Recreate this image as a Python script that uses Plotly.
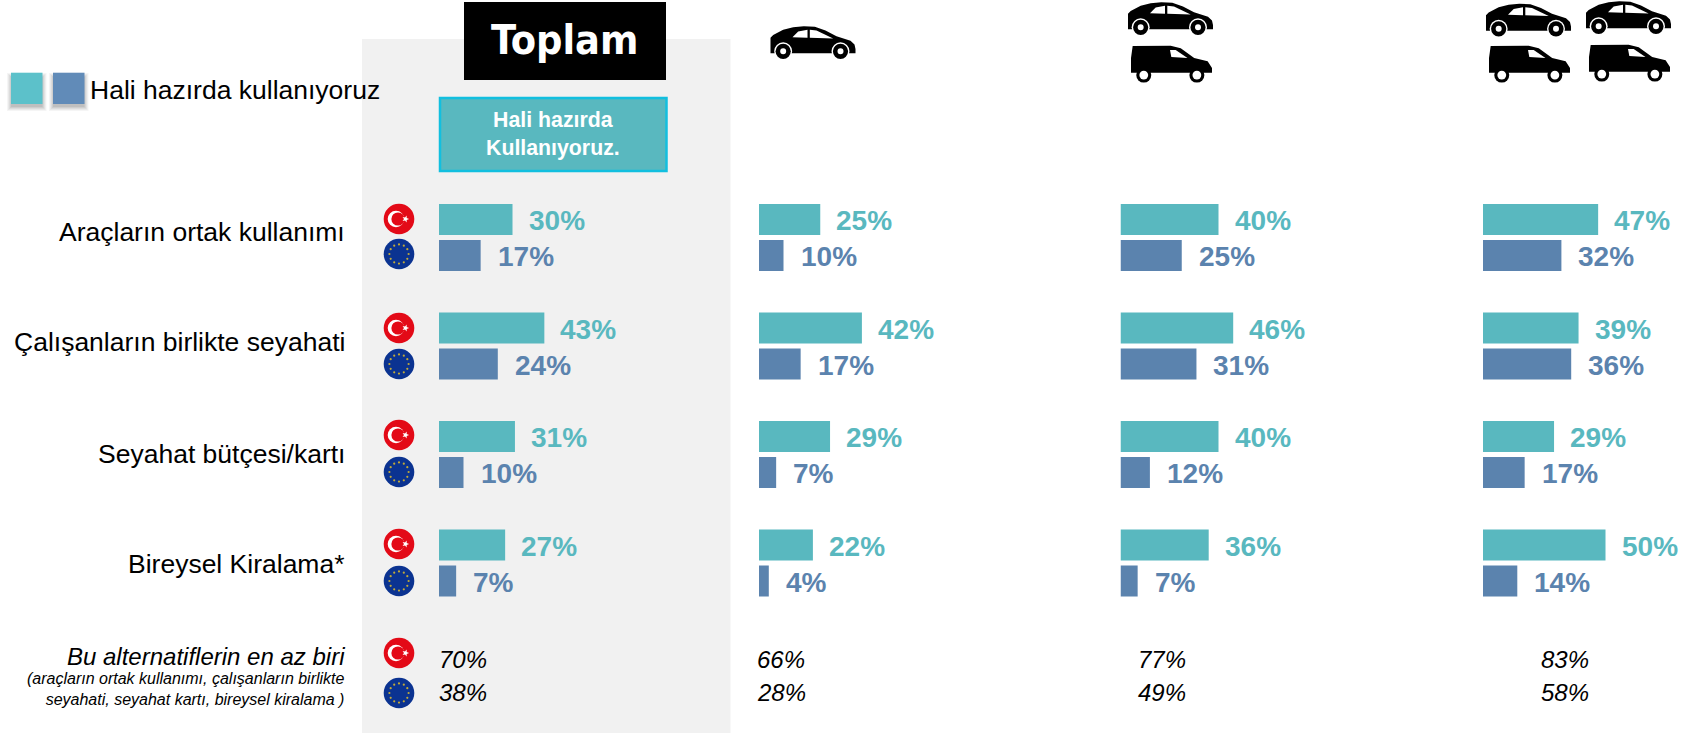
import math
import plotly.graph_objects as go

W, H = 1689, 733

# ---------- data ----------
categories = ["Araçların ortak kullanımı", "Çalışanların birlikte seyahati",
              "Seyahat bütçesi/kartı", "Bireysel Kiralama*"]
panel_1_tr = [30, 43, 31, 27]
panel_1_eu = [17, 24, 10, 7]
panel_2_tr = [25, 42, 29, 22]
panel_2_eu = [10, 17, 7, 4]
panel_3_tr = [40, 46, 40, 36]
panel_3_eu = [25, 31, 12, 7]
panel_4_tr = [47, 39, 29, 50]
panel_4_eu = [32, 36, 17, 14]
any_tr = [70, 66, 77, 83]
any_eu = [38, 28, 49, 58]
legend_label = "Hali hazırda kullanıyoruz"
total_title = "Toplam"
button_label = "Hali hazırda<br>Kullanıyoruz."
any_title = "Bu alternatiflerin en az biri"
any_note = "(araçların ortak kullanımı, çalışanların birlikte<br>seyahati, seyahat kartı, bireysel kiralama )"

# ---------- styles / layout ----------
TEAL, BLUE = "#59b8bf", "#5b83ae"
FONT = "Liberation Sans"
panel_left = [439, 759, 1120.5, 1483]
any_left = [437, 755, 1136, 1539]
PX_PER_PCT = 2.45
X_MAX = 70
ROW0, ROW_STEP = 237.5, 108.5
OFFSET = 18 / ROW_STEP
BAR_W = 31 / ROW_STEP
label_shift = [6, 4, 1, -1]


def px(x):
    return x / W


def py(y):
    return 1 - y / H


shapes = []


def rect(x0, y0, x1, y1, fill, line=None, lw=0, layer="above", opacity=1):
    shapes.append(dict(type="rect", xref="paper", yref="paper", x0=px(x0), x1=px(x1),
                       y0=py(y0), y1=py(y1), fillcolor=fill, opacity=opacity, layer=layer,
                       line=dict(color=line or fill, width=lw)))


def circle(cx, cy, r, fill, ry=None):
    ry = ry or r
    shapes.append(dict(type="circle", xref="paper", yref="paper", x0=px(cx - r), x1=px(cx + r),
                       y0=py(cy + ry), y1=py(cy - ry), fillcolor=fill, line=dict(width=0)))


def poly(points, fill):
    d = "M " + " L ".join(f"{px(x):.5f},{py(y):.5f}" for x, y in points) + " Z"
    shapes.append(dict(type="path", xref="paper", yref="paper", path=d, fillcolor=fill,
                       line=dict(width=0)))


CAR_BODY = [(0, 37), (8, 28), (38, 12), (68, 4), (100, 1), (133, 2), (165, 14), (198, 32), (240, 46),
            (252, 58), (255, 72), (255, 85), (0, 85)]
CAR_WIN1 = [(66, 35), (83, 17), (111, 12), (111, 37)]
CAR_WIN2 = [(118, 12), (138, 14), (188, 39), (118, 37)]
VAN_BODY = [(0, 85), (0, 40), (5, 3), (118, 2), (148, 10), (188, 40), (228, 50), (241, 70), (241, 85)]
VAN_WIN = [(116, 15), (133, 15), (168, 40), (120, 37)]


def car(x0, y0):
    k = 85 / 255
    ky = 32 / 100
    poly([(x0 + a * k, y0 + b * ky) for a, b in CAR_BODY], "#000000")
    poly([(x0 + a * k, y0 + b * ky) for a, b in CAR_WIN1], "#ffffff")
    poly([(x0 + a * k, y0 + b * ky) for a, b in CAR_WIN2], "#ffffff")
    for c in (38, 210):
        cx, cy = x0 + c * k, y0 + 79 * ky
        circle(cx, cy, 9, "#ffffff")
        circle(cx, cy, 7.6, "#000000")
        circle(cx, cy, 3, "#ffffff")


def van(x0, y0):
    k = 81 / 241
    ky = 36 / 110
    poly([(x0 + a * k, y0 + b * ky) for a, b in VAN_BODY], "#000000")
    poly([(x0 + a * k, y0 + b * ky) for a, b in VAN_WIN], "#ffffff")
    for c in (38, 196):
        cx, cy = x0 + c * k, y0 + 92 * ky
        circle(cx, cy, 7.5, "#000000")
        circle(cx, cy, 4.4, "#ffffff")


def flag_tr(cx, cy):
    circle(cx, cy, 15.3, "#e30a17")
    circle(cx - 3, cy, 8.3, "#ffffff")
    circle(cx - 1, cy, 6.6, "#e30a17")
    pts = []
    for i in range(10):
        r = 3.6 if i % 2 == 0 else 1.5
        a = math.pi * i / 5
        pts.append((cx + 6.5 + r * math.cos(a), cy + r * math.sin(a)))
    poly(pts, "#ffffff")


def flag_eu(cx, cy):
    circle(cx, cy, 15.3, "#0b3391")
    for i in range(12):
        a = math.pi * i / 6
        circle(cx + 9.6 * math.cos(a), cy + 9.6 * math.sin(a), 1.1, "#c0a93a")


# grey "Toplam" panel
rect(362, 39, 730.5, H, "#f1f1f1", layer="below")
rect(464, 2, 666, 80, "#000000")
rect(440, 98, 666.5, 171, TEAL, line="#12bfdf", lw=2.5)

# legend swatches with soft shadow
for x0 in (11, 53):
    for grow, op in ((4, 0.06), (3, 0.07), (2, 0.09), (1, 0.1), (0, 0.12)):
        rect(x0 - grow, 77 - grow, x0 + 31.5 + grow, 107 + grow, "#555555", opacity=op)
rect(11, 72.7, 42.5, 104, "#5cc1ca")
rect(53, 72.7, 84.5, 104, "#618bb8")

# vehicles
car(770.5, 26)
car(1128, 2)
van(1131, 45)
car(1486, 3.5)
car(1586, 1)
van(1489, 45)
van(1589, 44)

# flags
for y_tr, y_eu in ((219, 254), (328, 364), (435, 472), (544, 581), (653, 693)):
    flag_tr(399, y_tr)
    flag_eu(399, y_eu)

# ---------- figure ----------
fig = go.Figure()
rows = list(range(len(categories)))
panels = [(panel_1_tr, panel_1_eu), (panel_2_tr, panel_2_eu),
          (panel_3_tr, panel_3_eu), (panel_4_tr, panel_4_eu)]
annotations = []


def note(x, y, text, size, color="#000000", anchor="left", bold=False, italic=False, **kw):
    t = text
    if bold:
        t = f"<b>{t}</b>"
    if italic:
        t = f"<i>{t}</i>"
    d = dict(x=x, y=y, text=t, showarrow=False, xanchor=anchor, yanchor="middle",
             font=dict(family=FONT, size=size, color=color), align=anchor)
    d.update(kw)
    annotations.append(d)


for p, (tr, eu) in enumerate(panels):
    xname = "x" if p == 0 else f"x{p + 1}"
    fig.add_trace(go.Bar(x=tr, y=[r - OFFSET for r in rows], orientation="h", width=BAR_W,
                         marker=dict(color=TEAL, line=dict(width=0)), xaxis=xname, yaxis="y",
                         showlegend=False, name="TR", hoverinfo="x"))
    fig.add_trace(go.Bar(x=eu, y=[r + OFFSET for r in rows], orientation="h", width=BAR_W,
                         marker=dict(color=BLUE, line=dict(width=0)), xaxis=xname, yaxis="y",
                         showlegend=False, name="EU", hoverinfo="x"))
    for r in rows:
        note(tr[r], r - OFFSET, f"{tr[r]}%", 28, TEAL, bold=True, xref=xname, yref="y", xshift=14, yshift=-1)
        note(eu[r], r + OFFSET, f"{eu[r]}%", 28, BLUE, bold=True, xref=xname, yref="y", xshift=15, yshift=-1)
    note(px(any_left[p]), 4 - 16.5 / ROW_STEP, f"{any_tr[p]}%", 24, italic=True, xref="paper", yref="y", yshift=-4.5)
    note(px(any_left[p]), 4 + 16.5 / ROW_STEP, f"{any_eu[p]}%", 24, italic=True, xref="paper", yref="y", yshift=-4.5)

for r, name in enumerate(categories):
    note(px(347), r, name, 26.5, anchor="right", xref="paper", yref="y", yshift=label_shift[r])

note(px(88), py(90), legend_label, 26.5, xref="paper", yref="paper")
note(px(552.5), py(134.5), button_label, 21.3, "#ffffff", anchor="center", bold=True, xref="paper", yref="paper")
note(px(347), py(656), any_title, 24, anchor="right", italic=True, xref="paper", yref="paper")
note(px(347), py(689), any_note, 16, anchor="right", italic=True, xref="paper", yref="paper")
annotations.append(dict(x=px(564), y=py(40), text=f"<b>{total_title}</b>", showarrow=False, xanchor="center",
                        yanchor="middle", xref="paper", yref="paper",
                        font=dict(family="DejaVu Sans Condensed", size=41, color="#ffffff")))

layout = dict(
    width=W, height=H, autosize=False, margin=dict(l=0, r=0, t=0, b=0),
    paper_bgcolor="#ffffff", plot_bgcolor="rgba(0,0,0,0)", barmode="overlay",
    shapes=shapes, annotations=annotations, showlegend=False,
    yaxis=dict(range=[(H - ROW0) / ROW_STEP, -ROW0 / ROW_STEP], domain=[0, 1], visible=False, fixedrange=True),
)
for p, left in enumerate(panel_left):
    key = "xaxis" if p == 0 else f"xaxis{p + 1}"
    layout[key] = dict(range=[0, X_MAX], domain=[px(left), px(left + X_MAX * PX_PER_PCT)],
                       visible=False, anchor="y", fixedrange=True)
fig.update_layout(**layout)
fig.write_html("out.html", config=dict(displayModeBar=False),
               post_script="document.body.style.margin='0';document.documentElement.style.overflow='hidden';")
